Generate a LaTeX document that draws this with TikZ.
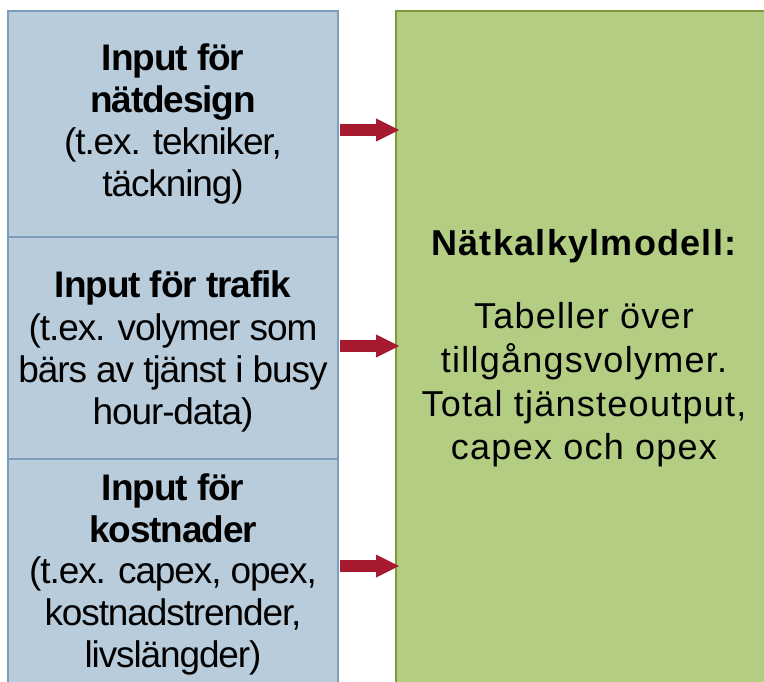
\documentclass[tikz,border=0pt]{standalone}
\usepackage{fontspec}
\setmainfont{Liberation Sans}
\newfontfamily\leftfont[LetterSpace=-3]{Liberation Sans}
\newfontfamily\greenfont[LetterSpace=3.5]{Liberation Sans}
\usetikzlibrary{arrows.meta}
\definecolor{bluefill}{HTML}{B9CCDB}
\definecolor{blueline}{HTML}{7D9DBA}
\definecolor{greenfill}{HTML}{B3CD83}
\definecolor{greenline}{HTML}{7E983A}
\definecolor{arrowred}{HTML}{A6192E}
\tikzset{
  bluebox/.style={draw=blueline, fill=bluefill, line width=2pt, inner sep=0pt, outer sep=0pt, anchor=north west},
  greenbox/.style={draw=greenline, fill=greenfill, line width=2pt, inner sep=0pt, outer sep=0pt, anchor=north west},
  ltext/.style={anchor=base, inner sep=0pt, font=\leftfont\fontsize{37}{42}\selectfont},
  lbold/.style={ltext, font=\leftfont\bfseries\fontsize{37}{42}\selectfont},
  gtext/.style={anchor=base, inner sep=0pt, font=\greenfont\fontsize{36}{43}\selectfont},
  gbold/.style={gtext, font=\greenfont\bfseries\fontsize{36}{43}\selectfont},
  arr/.style={draw=arrowred, line width=12pt, -{Triangle[length=23pt,width=23pt,line width=0pt]}, shorten <=2pt, shorten >=-3pt}
}
\begin{document}
\begin{tikzpicture}[x=1pt,y=-1pt]
\useasboundingbox (0,0) rectangle (764,682);
\fill[white] (0,0) rectangle (764,682);
\clip (0,0) rectangle (764,682);
% boxes
\node[bluebox, minimum width=330pt, minimum height=226pt] (b1) at (8,11) {};
\node[bluebox, minimum width=330pt, minimum height=222pt] (b2) at (8,237) {};
\node[bluebox, minimum width=330pt, minimum height=245pt] (b3) at (8,459) {};
\node[greenbox, minimum width=404pt, minimum height=700pt] (g) at (396,11) {};
% texts box 1
\node[lbold] (t11) at (173,71) {Input för};
\node[lbold] (t12) at (173,113) {nätdesign};
\node[ltext] (t13) at (173,155) {(t.ex. tekniker,};
\node[ltext] (t14) at (173,197) {täckning)};
% texts box 2
\node[lbold] (t21) at (173,298) {Input för trafik};
\node[ltext] (t22) at (173,340) {(t.ex. volymer som};
\node[ltext] (t23) at (173,382) {bärs av tjänst i busy};
\node[ltext] (t24) at (173,424) {hour-data)};
% texts box 3
\node[lbold] (t31) at (173,500) {Input för};
\node[lbold] (t32) at (173,542) {kostnader};
\node[ltext] (t33) at (173,583) {(t.ex. capex, opex,};
\node[ltext] (t34) at (173,625) {kostnadstrender,};
\node[ltext] (t35) at (173,667) {livslängder)};
% green texts
\node[gbold] (g1) at (584,256) {Nätkalkylmodell:};
\node[gtext] (g2) at (584,328) {Tabeller över};
\node[gtext] (g3) at (584,372) {tillgångsvolymer.};
\node[gtext] (g4) at (584,416) {Total tjänsteoutput,};
\node[gtext] (g5) at (584,459) {capex och opex};
% arrows
\coordinate (y1) at (0,130);
\coordinate (y2) at (0,346);
\coordinate (y3) at (0,566);
\draw[arr] (b1.east |- y1) -- (g.west |- y1);
\draw[arr] (b2.east |- y2) -- (g.west |- y2);
\draw[arr] (b3.east |- y3) -- (g.west |- y3);
\end{tikzpicture}
\end{document}
